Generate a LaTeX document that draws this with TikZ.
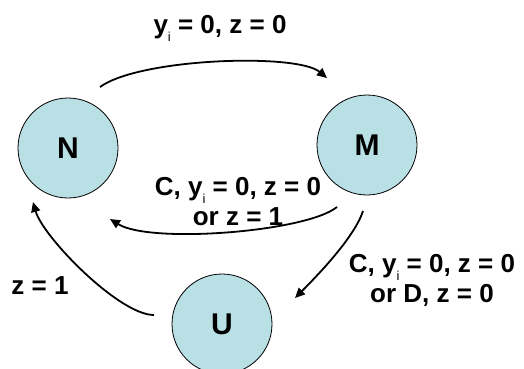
\documentclass[tikz,border=0pt]{standalone}
\usepackage{fontspec}
\setmainfont{Liberation Sans}
\usepackage{xcolor}
\usepackage{tikz}
\usetikzlibrary{arrows.meta,calc}
\definecolor{statefill}{RGB}{185,224,229}
\newcommand{\lowi}{\smash{\raisebox{-8pt}{\fontsize{13}{13}\selectfont\mdseries i}}}

\begin{document}
\begin{tikzpicture}[x=1pt,y=1pt,
    state/.style={circle,draw,line width=0.8pt,fill=statefill,minimum size=100pt,inner sep=0pt,font=\fontsize{30}{34}\selectfont\bfseries},
    trans/.style={line width=1.8pt,-{Triangle[length=10pt,width=9pt]}},
    every node/.style={font=\fontsize{26}{30}\selectfont\bfseries}]
    \useasboundingbox (0,0) rectangle (524,-368);

    % States
    \node[state] (N) at (68,-148) {N};
    \node[state] (M) at (367,-145) {M};
    \node[state] (U) at (222,-324) {U};

    % N -> M
    \draw[trans] ([shift={(32,61)}]N.center) .. controls +(40,29) and +(-30,25) .. ([shift={(-40,67)}]M.center);
    \node[anchor=base] (lnm) at (220,-33) {y\lowi\ = 0, z = 0};

    % M -> N
    \draw[trans] ([shift={(-30,-62)}]M.center) .. controls +(-31,-25) and +(40,-25) .. ([shift={(42,-71)}]N.center);
    \node[anchor=base,align=center] (lmn) at (238,-225) {C, y\lowi\ = 0, z = 0\\or z = 1};

    % M -> U
    \draw[trans] ([shift={(-4,-66)}]M.center) .. controls +(-8,-25) and +(25,25) .. ([shift={(73,26)}]U.center);
    \node[anchor=base,align=center] (lmu) at (432,-302) {C, y\lowi\ = 0, z = 0\\or D, z = 0};

    % U -> N
    \draw[trans] ([shift={(-68,9)}]U.center) .. controls +(-35,0) and +(10,-35) .. ([shift={(-35,-54)}]N.center);
    \node[anchor=base] (lun) at (40,-294) {z = 1};
\end{tikzpicture}
\end{document}
